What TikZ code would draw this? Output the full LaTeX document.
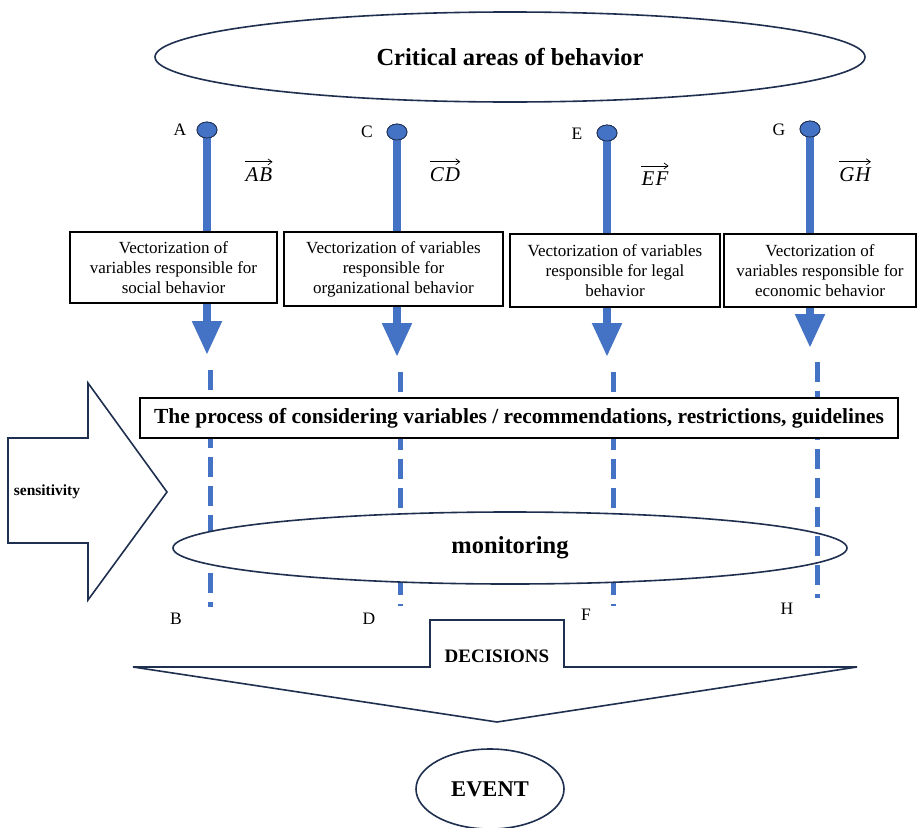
\documentclass[tikz,border=0pt]{standalone}
\usepackage{fontspec}
\setmainfont{Liberation Serif}
\usetikzlibrary{arrows.meta,shapes.geometric}
\definecolor{vblue}{HTML}{4472C4}
\definecolor{navy}{HTML}{1F2F4F}
\begin{document}
\begin{tikzpicture}[x=1pt,y=-1pt,
  bigell/.style={ellipse, draw=navy, line width=1.6pt, fill=white, inner sep=0pt, font=\bfseries\fontsize{24.5}{28}\selectfont},
  vecbox/.style={draw=black, line width=1.6pt, fill=white, align=center, inner sep=1pt, font=\fontsize{17}{20}\selectfont},
  vecline/.style={vblue, line width=8pt, -{Triangle[width=28pt,length=34pt]}},
  vdot/.style={ellipse, fill=vblue, draw=navy, line width=0.8pt, minimum width=20pt, minimum height=16pt, inner sep=0pt},
  dline/.style={vblue, line width=5pt, dash pattern=on 20pt off 9pt},
  lbl/.style={inner sep=0pt, font=\fontsize{17.5}{20}\selectfont},
  vlbl/.style={inner sep=0pt, font=\itshape\fontsize{21}{23}\selectfont},
  varrow/.style={draw=black, line width=0.7pt, -{Straight Barb[length=4pt,width=6pt]}},
  shapeline/.style={draw=navy, line width=1.6pt, fill=white, line join=miter}
]
\useasboundingbox (0,0) rectangle (920,827);

% top ellipse
\node[bigell, minimum width=710pt, minimum height=90pt] (top) at (510,57) {Critical areas of behavior};

% dashed lines (1-3 beneath monitoring ellipse)
\coordinate (b1t) at (210,370); \coordinate (b1) at (210,607);
\coordinate (b2t) at (400,372); \coordinate (b2) at (400,606);
\coordinate (b3t) at (613,372); \coordinate (b3) at (613,606);
\coordinate (b4t) at (817,362); \coordinate (b4) at (817,598);
\draw[dline] (b1t) -- (b1);
\draw[dline] (b2t) -- (b2);
\draw[dline] (b3t) -- (b3);

% monitoring ellipse
\node[bigell, minimum width=674pt, minimum height=72pt] (mon) at (510,548) {monitoring};
\draw[dline] (b4t) -- (b4);

% process box
\node[draw=black, line width=1.6pt, fill=white, minimum width=758pt, minimum height=40pt, inner sep=0pt,
  font=\bfseries\fontsize{21.5}{24}\selectfont] (proc) at (519,418)
  {The process of considering variables / recommendations, restrictions, guidelines};

% vectors
\node[vdot] (d1) at (207,130) {};
\node[vdot] (d2) at (397,132) {};
\node[vdot] (d3) at (607,133) {};
\node[vdot] (d4) at (810,129) {};
\coordinate (t1) at (207,355);
\coordinate (t2) at (397,357);
\coordinate (t3) at (607,357);
\coordinate (t4) at (810,348);
\draw[vecline] (d1.center) -- (t1);
\draw[vecline] (d2.center) -- (t2);
\draw[vecline] (d3.center) -- (t3);
\draw[vecline] (d4.center) -- (t4);
\node[vdot] at (d1) {};
\node[vdot] at (d2) {};
\node[vdot] at (d3) {};
\node[vdot] at (d4) {};

% boxes
\node[vecbox, minimum width=207pt, minimum height=71pt] (box1) at (173.5,267.5)
  {Vectorization of\\variables responsible for\\social behavior};
\node[vecbox, minimum width=219pt, minimum height=74pt] (box2) at (393.5,269)
  {Vectorization of variables\\responsible for\\organizational behavior};
\node[vecbox, minimum width=210pt, minimum height=73pt] (box3) at (615,270.5)
  {Vectorization of variables\\responsible for legal\\behavior};
\node[vecbox, minimum width=192pt, minimum height=73pt] (box4) at (820,270.5)
  {Vectorization of\\variables responsible for\\economic behavior};

% point labels
\node[lbl] (lA) at (180,130) {A};
\node[lbl] (lC) at (367,132) {C};
\node[lbl] (lE) at (577,134) {E};
\node[lbl] (lG) at (779,130) {G};
\node[lbl] (lB) at (176,619) {B};
\node[lbl] (lD) at (369,619) {D};
\node[lbl] (lF) at (586,615) {F};
\node[lbl] (lH) at (787,609) {H};

% vector labels
\node[vlbl] (vAB) at (259,175) {A\kern1pt B};
\node[vlbl] (vCD) at (445,175) {C\kern1pt D};
\node[vlbl] (vEF) at (655,179) {E\kern1pt F};
\node[vlbl] (vGH) at (855,175) {G\kern1pt H};
\draw[varrow] ([yshift=6pt]vAB.north west) -- ([yshift=6pt]vAB.north east);
\draw[varrow] ([yshift=6pt]vCD.north west) -- ([yshift=6pt]vCD.north east);
\draw[varrow] ([yshift=6pt]vEF.north west) -- ([yshift=6pt]vEF.north east);
\draw[varrow] ([yshift=6pt]vGH.north west) -- ([yshift=6pt]vGH.north east);

% sensitivity arrow
\draw[shapeline] (8,438) -- (88,438) -- (88,383) -- (167,492) -- (88,600) -- (88,543) -- (8,543) -- cycle;
\node[inner sep=0pt, font=\bfseries\fontsize{15.5}{18}\selectfont] (sens) at (47,492) {sensitivity};

% decisions
\draw[shapeline] (133,667) -- (430,667) -- (430,620) -- (564,620) -- (564,667) -- (857,667) -- (497,722) -- cycle;
\node[inner sep=0pt, font=\bfseries\fontsize{19}{22}\selectfont] (dec) at (497,656) {DECISIONS};

% event
\node[bigell, minimum width=148pt, minimum height=80pt, font=\bfseries\fontsize{22.5}{26}\selectfont] (ev) at (490,789) {EVENT};
\end{tikzpicture}
\end{document}
